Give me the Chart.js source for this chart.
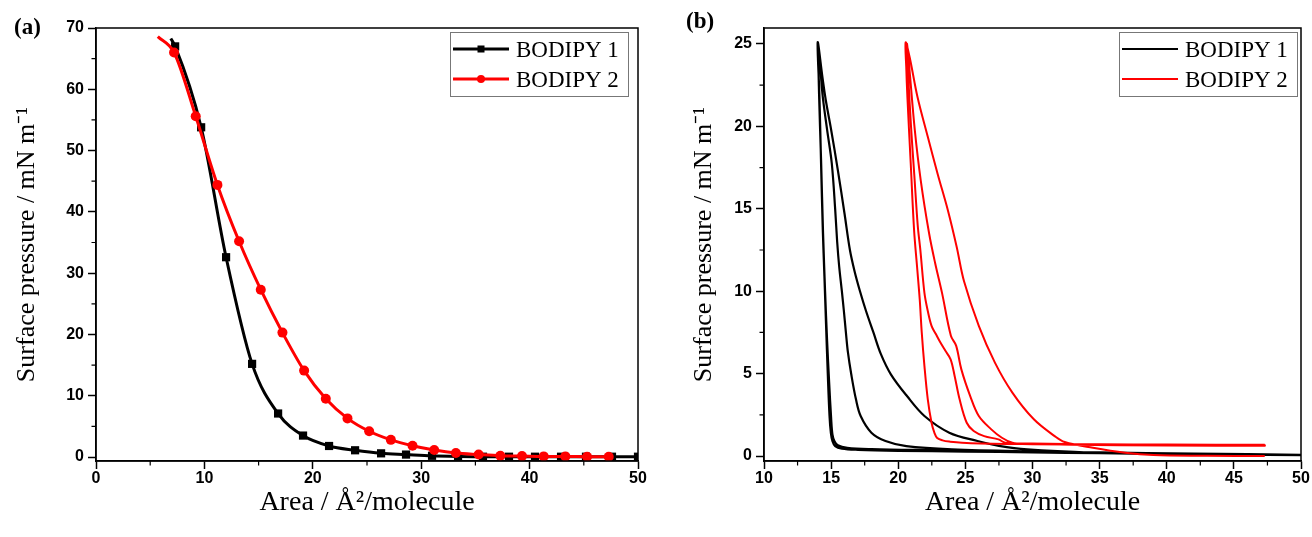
<!DOCTYPE html>
<html>
<head>
<meta charset="utf-8">
<script src="https://cdn.jsdelivr.net/npm/chart.js"></script>
<style>
  body { margin: 0; background: #fff; }
  #wrap { position: relative; width: 1312px; height: 537px; }
  canvas { position: absolute; top: 0; }
  #chartA { left: 0; }
  #chartB { left: 656px; }
</style>
</head>
<body>
<div id="wrap">
  <canvas id="chartA" width="656" height="537"></canvas>
  <canvas id="chartB" width="656" height="537"></canvas>
</div>
<script>
const seriesNames = ['BODIPY 1', 'BODIPY 2'];

// (a) isotherms - marker positions (index 0 = where the line starts, no marker)
const areaA1 = [6.9, 7.3, 9.7, 12.0, 14.4, 16.8, 19.1, 21.5, 23.9, 26.3, 28.6, 31.0, 33.4, 35.7, 38.1, 40.5, 42.9, 45.2, 47.6, 50.0];
const pressA1 = [68.3, 67.0, 53.8, 32.6, 15.2, 7.1, 3.5, 1.8, 1.1, 0.6, 0.4, 0.2, 0.1, 0.05, 0.05, 0.05, 0.05, 0.05, 0.05, 0.05];
const areaA2 = [5.7, 7.2, 9.2, 11.2, 13.2, 15.2, 17.2, 19.2, 21.2, 23.2, 25.2, 27.2, 29.2, 31.2, 33.2, 35.3, 37.3, 39.3, 41.3, 43.3, 45.3, 47.3];
const pressA2 = [68.6, 66.0, 55.6, 44.4, 35.2, 27.3, 20.3, 14.1, 9.5, 6.3, 4.2, 2.8, 1.85, 1.15, 0.65, 0.4, 0.2, 0.15, 0.1, 0.1, 0.05, 0.05];

// (b) compression / expansion cycles, in drawing order
const areaB1 = [50.0, 45.0, 40.0, 34.5, 29.6, 27.5, 25.9, 23.8, 21.95, 20.65, 19.45, 18.7, 18.15, 17.6, 17.15, 16.75, 16.4, 16.0, 15.5, 15.0, 14.6, 14.35, 14.0,
  14.13, 14.25, 14.38, 14.5, 14.62, 14.75, 14.88, 14.98, 15.1, 15.3, 15.8, 17.0, 20.0, 25.0, 30.0, 35.0, 40.0, 45.0, 49.0,
  40.0, 30.0, 24.0, 20.6, 19.05, 18.0, 17.2, 16.85, 16.5, 16.25, 16.1, 15.95, 15.8, 15.6, 15.45, 15.3, 15.05, 14.7, 14.35, 14.05,
  14.1, 14.25, 14.4, 14.55, 14.7, 14.85, 15.0, 15.1, 15.25, 15.5, 16.2, 18.0, 22.0, 28.0, 35.0, 42.0, 50.0];
const pressB1 = [0.05, 0.08, 0.12, 0.2, 0.4, 0.62, 0.91, 1.42, 2.43, 3.64, 4.96, 6.2, 7.5, 8.8, 10.0, 11.2, 12.5, 14.7, 17.35, 19.8, 21.6, 23.0, 25.1,
  21.8, 17.75, 13.7, 10.9, 8.0, 5.0, 2.43, 1.4, 0.9, 0.6, 0.45, 0.38, 0.32, 0.27, 0.22, 0.17, 0.13, 0.1, 0.08,
  0.15, 0.28, 0.4, 0.6, 0.91, 1.42, 2.43, 3.44, 4.96, 6.3, 7.5, 8.8, 10.0, 11.5, 13.0, 15.0, 17.75, 19.8, 22.0, 25.0,
  22.0, 18.0, 13.5, 10.0, 7.0, 4.5, 2.3, 1.3, 0.9, 0.65, 0.5, 0.42, 0.36, 0.3, 0.22, 0.15, 0.08];
const areaB2 = [47.3, 43.0, 39.0, 36.9, 34.5, 32.4, 31.65, 30.1, 28.5, 27.2, 26.0, 24.9, 24.35, 23.7, 22.94, 22.19, 21.43, 20.85, 20.55,
  20.6, 20.68, 20.93, 21.18, 21.4, 21.6, 21.75, 21.95, 22.2, 22.48, 22.69, 22.9, 23.3, 23.8, 25.4, 30.0, 35.0, 40.0, 47.3,
  47.3, 40.0, 33.0, 29.5, 28.5, 27.72, 26.93, 26.0, 25.36, 24.7, 24.31, 23.92, 23.26, 22.75, 22.3, 21.68, 21.23, 20.8, 20.65,
  20.75, 20.95, 21.2, 21.45, 21.64, 21.95, 22.2, 22.48, 22.8, 23.13, 23.5, 23.9, 24.2, 24.57, 25.1, 25.62, 26.4, 27.46, 27.98, 30.0, 35.0, 40.0, 47.3];
const pressB2 = [0.0, 0.02, 0.06, 0.2, 0.5, 0.85, 1.21, 2.23, 3.85, 5.67, 7.9, 10.6, 12.7, 14.9, 17.1, 19.4, 21.8, 24.2, 25.1,
  23.5, 21.8, 17.75, 13.7, 11.5, 9.5, 7.5, 5.47, 3.44, 2.02, 1.42, 1.1, 0.95, 0.88, 0.78, 0.72, 0.7, 0.68, 0.66,
  0.62, 0.64, 0.68, 0.74, 0.81, 1.11, 1.62, 2.43, 3.64, 5.26, 6.7, 7.3, 9.9, 11.7, 13.5, 16.7, 19.8, 23.8, 25.0,
  23.0, 20.0, 17.0, 14.0, 12.55, 9.9, 8.8, 7.9, 7.4, 6.9, 6.4, 5.87, 4.86, 3.44, 2.02, 1.52, 1.21, 1.01, 0.81, 0.76, 0.72, 0.7, 0.68];

const xTicksA = [0, 10, 20, 30, 40, 50];
const yTicksA = [0, 10, 20, 30, 40, 50, 60, 70];
const xMinorA = [5, 15, 25, 35, 45];
const yMinorA = [5, 15, 25, 35, 45, 55, 65];
const xTicksB = [10, 15, 20, 25, 30, 35, 40, 45, 50];
const yTicksB = [0, 5, 10, 15, 20, 25];
const xMinorB = [12.5, 17.5, 22.5, 27.5, 32.5, 37.5, 42.5, 47.5];
const yMinorB = [2.5, 7.5, 12.5, 17.5, 22.5];

const toPoints = (xs, ys) => xs.map((x, i) => ({x: x, y: ys[i]}));

const tickFont = {family: 'Liberation Sans', weight: 'bold', size: 16};

function makeScales(o) {
  return {
    x: {
      type: 'linear', min: o.xMin, max: o.xMax,
      afterBuildTicks: s => { s.ticks = o.xTicks.map(v => ({value: v})); },
      afterFit: s => { s.height = 76; },
      grid: {drawOnChartArea: false, color: '#000', tickLength: 8, tickWidth: 1.5},
      border: {color: '#000', width: 1.5},
      ticks: {color: '#000', font: tickFont, padding: 0, maxRotation: 0, autoSkip: false},
      title: {display: true, text: 'Area / Å²/molecule', color: '#000',
        font: {family: 'Liberation Serif', size: 28}, padding: {bottom: 18}}
    },
    y: {
      type: 'linear', min: o.yMin, max: o.yMax,
      afterBuildTicks: s => { s.ticks = o.yTicks.map(v => ({value: v})); },
      afterFit: s => { s.width = o.yWidth; },
      grid: {drawOnChartArea: false, color: '#000', tickLength: 8, tickWidth: 1.5},
      border: {color: '#000', width: 1.5},
      ticks: {color: '#000', font: tickFont, padding: 4, autoSkip: false},
      title: {display: true, text: 'Surface pressure / mN m⁻¹', color: '#000',
        font: {family: 'Liberation Serif', size: 26}, padding: {top: o.titlePad}}
    }
  };
}

// frame, minor ticks, panel letter and the boxed legend
const overlay = {
  id: 'overlay',
  afterDraw(chart, args, o) {
    const {ctx, chartArea: a, scales} = chart;
    ctx.save();
    ctx.strokeStyle = '#000';
    ctx.lineWidth = 1.5;
    ctx.strokeRect(a.left, a.top, a.right - a.left, a.bottom - a.top);

    ctx.lineWidth = 1.2;
    ctx.beginPath();
    o.xMinor.forEach(v => {
      const px = scales.x.getPixelForValue(v);
      ctx.moveTo(px, a.bottom); ctx.lineTo(px, a.bottom + 4.5);
    });
    o.yMinor.forEach(v => {
      const py = scales.y.getPixelForValue(v);
      ctx.moveTo(a.left, py); ctx.lineTo(a.left - 4.5, py);
    });
    ctx.stroke();

    ctx.fillStyle = '#000';
    ctx.font = 'bold 23px "Liberation Serif"';
    ctx.textBaseline = 'middle';
    ctx.fillText(o.label, o.labelX, o.labelY);

    const bw = 178, bh = 64;
    const bx = a.right - o.legendGap - bw, by = a.top + 4;
    ctx.fillStyle = '#fff';
    ctx.fillRect(bx, by, bw, bh);
    ctx.strokeStyle = '#777';
    ctx.lineWidth = 1;
    ctx.strokeRect(bx + 0.5, by + 0.5, bw, bh);

    ctx.font = '23px "Liberation Serif"';
    seriesNames.forEach((name, row) => {
      const ds = chart.data.datasets.find(d => d.label === name);
      const ly = by + 17 + row * 30;
      ctx.strokeStyle = ds.borderColor;
      ctx.lineWidth = ds.borderWidth;
      ctx.beginPath();
      ctx.moveTo(bx + 3, ly); ctx.lineTo(bx + 59, ly);
      ctx.stroke();
      if (o.markers) {
        ctx.fillStyle = ds.borderColor;
        if (ds.pointStyle === 'rect') {
          ctx.fillRect(bx + 31 - 3.5, ly - 3.5, 7, 7);
        } else {
          ctx.beginPath(); ctx.arc(bx + 31, ly, 4, 0, Math.PI * 2); ctx.fill();
        }
      }
      ctx.fillStyle = '#000';
      ctx.fillText(name, bx + 66, ly + 2);
    });
    ctx.restore();
  }
};

new Chart(document.getElementById('chartA'), {
  type: 'line',
  data: {
    datasets: [{
      label: seriesNames[0],
      data: toPoints(areaA1, pressA1),
      borderColor: '#000', backgroundColor: '#000', borderWidth: 3,
      pointStyle: 'rect',
      pointRadius: ctx => ctx.dataIndex === 0 ? 0 : 5.8,
      pointBorderWidth: 0,
      cubicInterpolationMode: 'monotone',
      order: 2
    }, {
      label: seriesNames[1],
      data: toPoints(areaA2, pressA2),
      borderColor: '#ff0000', backgroundColor: '#ff0000', borderWidth: 3,
      pointStyle: 'circle',
      pointRadius: ctx => ctx.dataIndex === 0 ? 0 : 5,
      pointBorderWidth: 0,
      cubicInterpolationMode: 'monotone',
      order: 1
    }]
  },
  options: {
    responsive: false, animation: false, events: [], devicePixelRatio: 1,
    layout: {padding: {left: 0, right: 18, top: 28, bottom: 0}},
    scales: makeScales({xMin: 0, xMax: 50, yMin: -0.65, yMax: 70, xTicks: xTicksA, yTicks: yTicksA, yWidth: 96, titlePad: 12}),
    plugins: {
      legend: {display: false}, tooltip: {enabled: false},
      overlay: {xMinor: xMinorA, yMinor: yMinorA, label: '(a)', labelX: 14, labelY: 28, legendGap: 10, markers: true}
    }
  },
  plugins: [overlay]
});

new Chart(document.getElementById('chartB'), {
  type: 'line',
  data: {
    datasets: [{
      label: seriesNames[0],
      data: toPoints(areaB1, pressB1),
      borderColor: '#000', borderWidth: 2.2, pointRadius: 0, tension: 0.35,
      order: 2
    }, {
      label: seriesNames[1],
      data: toPoints(areaB2, pressB2),
      borderColor: '#ff0000', borderWidth: 2, pointRadius: 0, tension: 0.35,
      order: 1
    }]
  },
  options: {
    responsive: false, animation: false, events: [], devicePixelRatio: 1,
    layout: {padding: {left: 0, right: 11, top: 28, bottom: 0}},
    scales: makeScales({xMin: 10, xMax: 50, yMin: -0.3, yMax: 25.97, xTicks: xTicksB, yTicks: yTicksB, yWidth: 108, titlePad: 33}),
    plugins: {
      legend: {display: false}, tooltip: {enabled: false},
      overlay: {xMinor: xMinorB, yMinor: yMinorB, label: '(b)', labelX: 30, labelY: 22, legendGap: 4, markers: false}
    }
  },
  plugins: [overlay]
});
</script>
</body>
</html>
